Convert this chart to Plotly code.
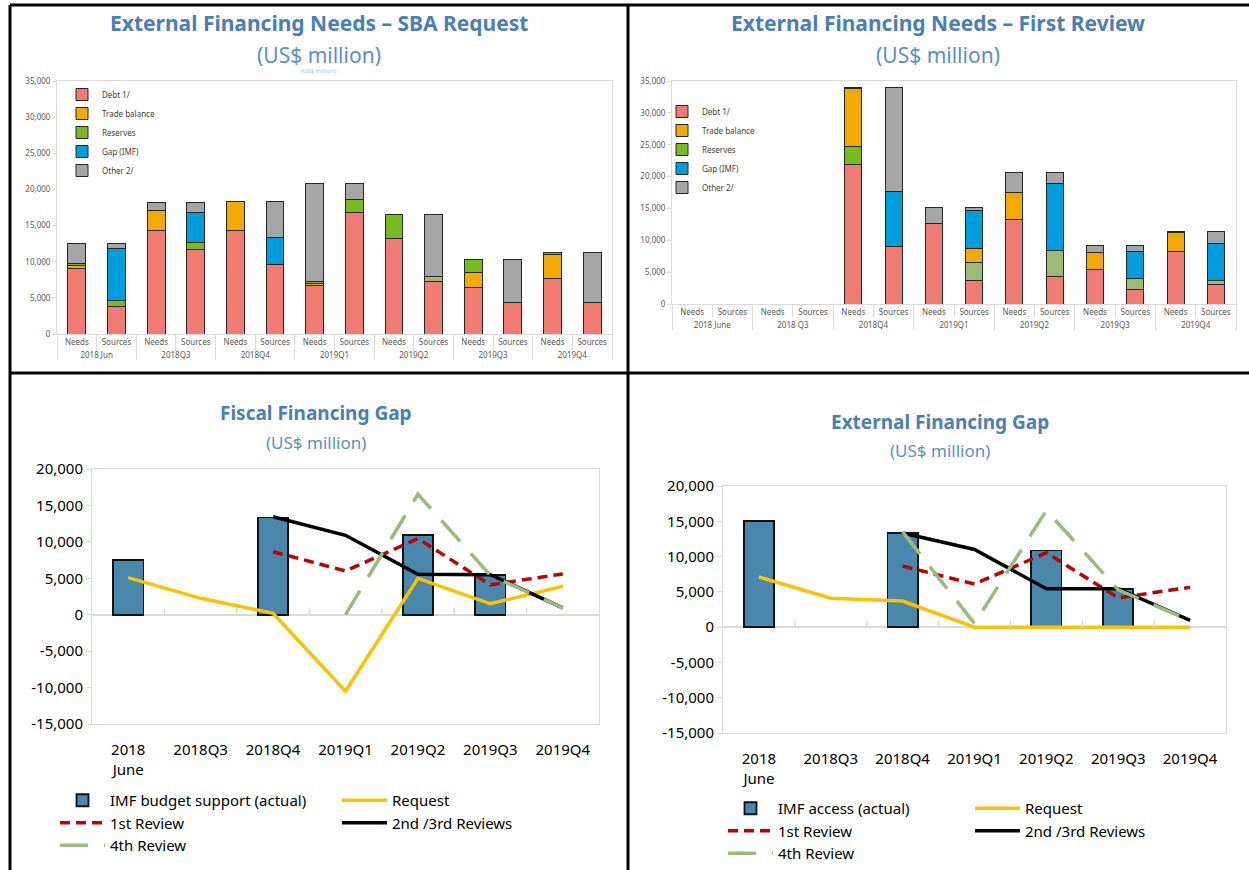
import plotly.graph_objects as go

W, H = 1249, 870

# ---- top charts: external financing needs vs sources (US$ million)
subs = ["Needs", "Sources"] * 7
groups_sba = ["2018 Jun", "2018 Jun", "2018Q3", "2018Q3", "2018Q4", "2018Q4", "2019Q1", "2019Q1",
              "2019Q2", "2019Q2", "2019Q3", "2019Q3", "2019Q4", "2019Q4"]
groups_fr = ["2018 June", "2018 June", "2018 Q3", "2018 Q3", "2018Q4", "2018Q4", "2019Q1", "2019Q1",
             "2019Q2", "2019Q2", "2019Q3", "2019Q3", "2019Q4", "2019Q4"]

debt_sba = [9100, 3800, 14350, 11750, 14350, 9650, 6750, 16850, 13150, 7300, 6450, 4300, 7700, 4300]
trade_sba = [400, 0, 2750, 0, 4000, 0, 250, 0, 0, 0, 2000, 0, 3300, 0]
reserves_sba = [200, 850, 0, 900, 0, 0, 250, 1800, 3400, 650, 1850, 0, 300, 0]
gap_sba = [0, 7150, 0, 4150, 0, 3700, 0, 0, 0, 0, 0, 0, 0, 0]
other_sba = [2850, 750, 1100, 1400, 0, 5000, 13600, 2200, 0, 8600, 0, 6000, 0, 7000]

debt_fr = [0, 0, 0, 0, 21850, 9000, 12700, 3700, 13250, 4350, 5450, 2300, 8300, 3100]
reserves_fr = [0, 0, 0, 0, 2900, 0, 0, 2850, 0, 4100, 0, 1700, 0, 600]
trade_fr = [0, 0, 0, 0, 9150, 0, 0, 2150, 4300, 0, 2600, 0, 2900, 0]
gap_fr = [0, 0, 0, 0, 0, 8600, 0, 6000, 0, 10500, 0, 4200, 0, 5750]
other_fr = [0, 0, 0, 0, 150, 16450, 2450, 450, 3100, 1700, 1100, 950, 150, 1900]

# ---- bottom charts: financing gaps (US$ million)
periods = ["2018<br>June", "2018Q3", "2018Q4", "2019Q1", "2019Q2", "2019Q3", "2019Q4"]

fiscal_imf = [7500, None, 13350, None, 10950, 5400, None]
fiscal_request = [5100, 2250, 200, -10500, 5000, 1500, 3900]
fiscal_first = [None, None, 8650, 6000, 10450, 4100, 5600]
fiscal_second = [None, None, 13450, 10900, 5550, 5500, 950]
fiscal_fourth = [None, None, None, 0, 16550, 5400, 950]

ext_imf = [15050, None, 13350, None, 10850, 5400, None]
ext_request = [7100, 4100, 3700, 0, 0, 0, 0]
ext_first = [None, None, 8650, 6100, 10550, 4150, 5650]
ext_second = [None, None, 13350, 11000, 5450, 5450, 950]
ext_fourth = [None, None, 13500, 500, 16550, 5300, 950]

# colours
C_DEBT, C_TRADE, C_RES, C_RES_LT = "#f07b72", "#f2a900", "#77bc1f", "#9bbb7b"
C_GAP, C_OTHER = "#009ddc", "#a6a6a6"
TITLE_C, SUB_C = "#4a7fb5", "#5b8fc7"
FONT = "Noto Sans"

res_colors_sba = [C_RES] * 9 + [C_RES_LT] + [C_RES] * 4
res_colors_fr = [C_RES if s == "Needs" else C_RES_LT for s in subs]


def px(x):
    return x / W


def py(y):
    return 1 - y / H


def nz(vals):
    return [v if v else None for v in vals]


fig = go.Figure()

# top-left stack: debt, trade, reserves, gap, other
for name, vals, col, rank in [("Debt 1/", debt_sba, C_DEBT, 1), ("Trade balance", trade_sba, C_TRADE, 2),
                              ("Reserves", reserves_sba, res_colors_sba, 3), ("Gap (IMF)", gap_sba, C_GAP, 4),
                              ("Other 2/", other_sba, C_OTHER, 5)]:
    fig.add_trace(go.Bar(
        x=[groups_sba, subs], y=nz(vals), name=name, width=0.45,
        marker=dict(color=col, line=dict(color="#262626", width=1)),
        xaxis="x", yaxis="y", legend="legend", legendrank=rank
    ))

# top-right stack: debt, reserves, trade, gap, other
for name, vals, col, rank in [("Debt 1/", debt_fr, C_DEBT, 1), ("Reserves", reserves_fr, res_colors_fr, 3),
                              ("Trade balance", trade_fr, C_TRADE, 2), ("Gap (IMF)", gap_fr, C_GAP, 4),
                              ("Other 2/", other_fr, C_OTHER, 5)]:
    fig.add_trace(go.Bar(
        x=[groups_fr, subs], y=nz(vals), name=name, width=0.42,
        marker=dict(color=col, line=dict(color="#262626", width=1)),
        xaxis="x2", yaxis="y2", legend="legend2", legendrank=rank
    ))


def gap_chart(xa, ya, bar_name, imf, req, first, second, fourth, leg_l, leg_r):
    fig.add_trace(go.Bar(
        x=periods, y=imf, name=bar_name, width=0.42,
        marker=dict(color="#4a87ad", line=dict(color="#111111", width=1.8)),
        xaxis=xa, yaxis=ya, legend=leg_l
    ))
    fig.add_trace(go.Scatter(
        x=periods, y=req, name="Request", mode="lines",
        line=dict(color="#ffc000", width=3.5), xaxis=xa, yaxis=ya, legend=leg_r
    ))
    fig.add_trace(go.Scatter(
        x=periods, y=first, name="1st Review", mode="lines",
        line=dict(color="#c00000", width=3.5, dash="10px,6px"), xaxis=xa, yaxis=ya, legend=leg_l
    ))
    fig.add_trace(go.Scatter(
        x=periods, y=second, name="2nd /3rd Reviews", mode="lines",
        line=dict(color="#000000", width=3.5), xaxis=xa, yaxis=ya, legend=leg_r
    ))
    fig.add_trace(go.Scatter(
        x=periods, y=fourth, name="4th Review", mode="lines",
        line=dict(color="#9bbb7b", width=3.5, dash="28px,16px"), xaxis=xa, yaxis=ya, legend=leg_l
    ))


gap_chart("x3", "y3", "IMF budget support (actual)", fiscal_imf, fiscal_request,
          fiscal_first, fiscal_second, fiscal_fourth, "legend3", "legend4")
gap_chart("x4", "y4", "IMF access (actual)", ext_imf, ext_request,
          ext_first, ext_second, ext_fourth, "legend5", "legend6")

FRAME = "#d9d9d9"
top_tick = dict(size=8, color="#595959", family=FONT)
big_tick = dict(size=15, color="#000000", family=FONT)

top_y = dict(range=[0, 35000], dtick=5000, tickformat=",d", showgrid=False, zeroline=False,
             showline=True, mirror=True, linecolor=FRAME, ticks="outside", ticklen=4,
             tickcolor=FRAME, tickfont=top_tick, automargin=False)
top_x = dict(type="multicategory", showline=True, mirror=True, linecolor=FRAME, ticks="outside",
             ticklen=16, tickcolor=FRAME, showdividers=True, dividercolor=FRAME, dividerwidth=1,
             tickfont=top_tick, showgrid=False, automargin=False)

gap_ticks = list(range(-15000, 20001, 5000))
gap_y = dict(range=[-15000, 20000], tickvals=gap_ticks, ticktext=[f"{v:,}" for v in gap_ticks],
             showgrid=False, zeroline=True, zerolinecolor=FRAME, zerolinewidth=1.5,
             showline=True, mirror=True, linecolor=FRAME, ticks="outside", ticklen=5,
             tickcolor=FRAME, tickfont=big_tick, automargin=False)
gap_x = dict(type="category", showline=True, mirror=True, linecolor=FRAME, ticks="",
             showgrid=False, tickfont=big_tick, ticklabelstandoff=12, automargin=False)

leg_small = dict(font=dict(size=8, color="#404040", family=FONT), bgcolor="rgba(0,0,0,0)",
                 traceorder="normal", xanchor="left", yanchor="top")
leg_big = dict(font=dict(size=15, color="#000000", family=FONT), bgcolor="rgba(0,0,0,0)",
               traceorder="normal", xanchor="left", yanchor="top", tracegroupgap=0, itemwidth=45)

fig.update_layout(
    width=W, height=H, margin=dict(l=0, r=0, t=0, b=0, pad=0, autoexpand=False),
    paper_bgcolor="white", plot_bgcolor="white",
    barmode="stack", font=dict(family=FONT),
    xaxis=dict(top_x, domain=[px(57), px(612)], anchor="y"),
    yaxis=dict(top_y, domain=[py(334), py(81)], anchor="x"),
    xaxis2=dict(top_x, domain=[px(672), px(1236)], anchor="y2", ticklen=12),
    yaxis2=dict(top_y, domain=[py(304), py(81)], anchor="x2"),
    xaxis3=dict(gap_x, domain=[px(92), px(599)], anchor="y3"),
    yaxis3=dict(gap_y, domain=[py(724), py(469)], anchor="x3"),
    xaxis4=dict(gap_x, domain=[px(723), px(1226)], anchor="y4"),
    yaxis4=dict(gap_y, domain=[py(733), py(486)], anchor="x4"),
    legend=dict(leg_small, x=px(62), y=py(80)),
    legend2=dict(leg_small, x=px(662), y=py(97)),
    legend3=dict(leg_big, x=px(55), y=py(784)),
    legend4=dict(leg_big, x=px(337), y=py(784)),
    legend5=dict(leg_big, x=px(723), y=py(792)),
    legend6=dict(leg_big, x=px(970), y=py(792)),
    showlegend=True,
)

# titles
titles = [
    (319, 23, "<b>External Financing Needs – SBA Request</b>", 21, TITLE_C),
    (319, 55, "(US$ million)", 21, SUB_C),
    (319, 71, "(US$ million)", 6, "#a9c1dc"),
    (938, 23, "<b>External Financing Needs – First Review</b>", 21, TITLE_C),
    (938, 55, "(US$ million)", 21, SUB_C),
    (316, 413, "<b>Fiscal Financing Gap</b>", 19, TITLE_C),
    (316, 442, "(US$ million)", 17, SUB_C),
    (940, 422, "<b>External Financing Gap</b>", 19, TITLE_C),
    (940, 450, "(US$ million)", 17, SUB_C),
]
for x, y, text, size, color in titles:
    fig.add_annotation(x=px(x), y=py(y), xref="paper", yref="paper", text=text, showarrow=False,
                       xanchor="center", yanchor="middle", font=dict(size=size, color=color, family=FONT))

# small tick marks on the zero line between periods
for xa, ya in [("x3", "y3"), ("x4", "y4")]:
    for i in range(1, len(periods)):
        fig.add_shape(type="line", xref=xa, yref=ya, x0=i - 0.5, x1=i - 0.5,
                      ysizemode="pixel", yanchor=0, y0=0, y1=7, line=dict(color=FRAME, width=1.5))

# panel borders
for x0, y0, x1, y1 in [(10, 5, 1249, 5), (10, 5, 10, 870), (628, 5, 628, 870), (10, 373, 1249, 373)]:
    fig.add_shape(type="line", xref="paper", yref="paper", x0=px(x0), y0=py(y0), x1=px(x1), y1=py(y1),
                  line=dict(color="black", width=3))

# pin the figure to the window's corner so the page is exactly the figure's size
pin = ("document.documentElement.style.margin='0';document.body.style.margin='0';"
       "document.body.style.overflow='hidden';document.documentElement.style.overflow='hidden';"
       "var d=document.getElementsByClassName('plotly-graph-div')[0];"
       "d.style.position='absolute';d.style.left='0px';d.style.top='0px';")
fig.write_html("out.html", config={"displayModeBar": False}, post_script=pin)
